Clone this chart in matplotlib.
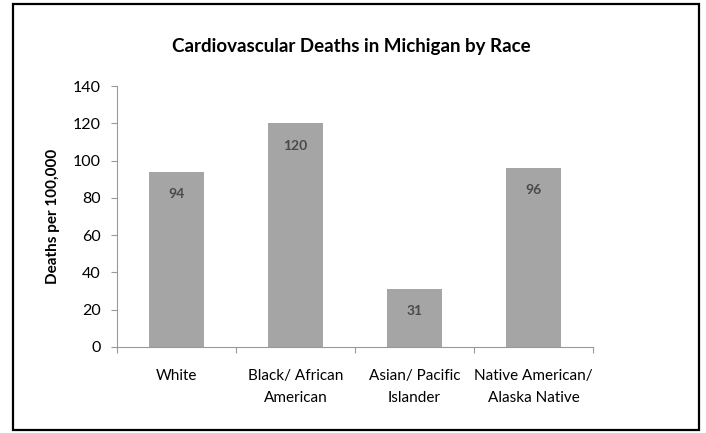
import matplotlib.pyplot as plt
from matplotlib.patches import Rectangle

categories = ['White', 'Black/ African\nAmerican', 'Asian/ Pacific\nIslander',
              'Native American/\nAlaska Native']
deaths = [94, 120, 31, 96]
yticks = [0, 20, 40, 60, 80, 100, 120, 140]

plt.rcParams['font.family'] = ['Lato', 'DejaVu Sans']

fig = plt.figure(figsize=(7.06, 4.33), dpi=100)
ax = fig.add_axes([0.166, 0.199, 0.674, 0.602])

x = range(len(categories))
bars = ax.bar(x, deaths, width=0.46, color='#a5a5a5')
for b, v in zip(bars, deaths):
    ax.text(b.get_x() + b.get_width() / 2, v - 12, str(v), ha='center', va='center',
            fontsize=10, fontweight='bold', color='#4a4a4a')

ax.set_xlim(-0.5, len(categories) - 0.5)
ax.set_ylim(0, 140)
ax.set_yticks(yticks)
ax.set_xticks([i + 0.5 for i in range(-1, len(categories))], minor=False)
ax.set_xticklabels([''] * (len(categories) + 1))
ax.set_xticks(list(x), minor=True)
ax.set_xticklabels(categories, minor=True, fontsize=11, linespacing=1.75)
ax.tick_params(axis='x', which='minor', length=0, pad=16)
ax.tick_params(axis='x', which='major', length=4, color='#999999', direction='out')
ax.tick_params(axis='y', length=4, color='#999999', labelsize=11.5, pad=8)

for s in ['top', 'right']:
    ax.spines[s].set_visible(False)
for s in ['left', 'bottom']:
    ax.spines[s].set_color('#999999')

ax.set_ylabel('Deaths per 100,000', fontsize=11, fontweight='bold', labelpad=9)
fig.text(0.497, 0.892, 'Cardiovascular Deaths in Michigan by Race', ha='center',
         va='center', fontsize=13.5, fontweight='bold')

fig.patches.append(Rectangle((0.018, 0.006), 0.972, 0.985, transform=fig.transFigure,
                             fill=False, edgecolor='black', linewidth=1.6))

fig.savefig('out.png', dpi=100)
